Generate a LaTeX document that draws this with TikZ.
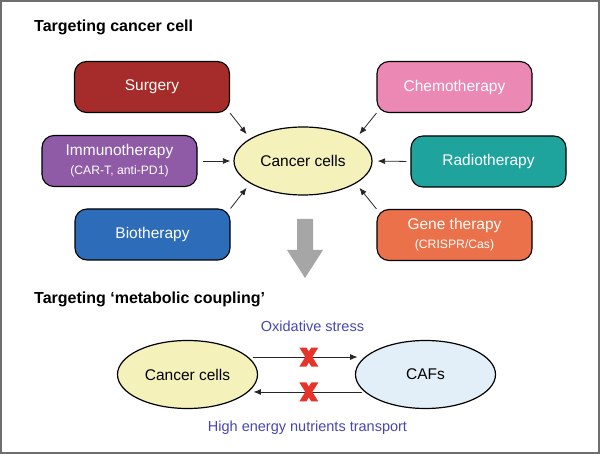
\documentclass[tikz,border=0pt]{standalone}
\usepackage{fontspec}
\setmainfont{Liberation Sans}
\usetikzlibrary{arrows.meta,shapes.geometric}
\definecolor{frame}{HTML}{6E6E6E}
\definecolor{csurg}{HTML}{A52C2A}
\definecolor{cchem}{HTML}{EB88B4}
\definecolor{cradio}{HTML}{1FA39D}
\definecolor{cgene}{HTML}{EB714A}
\definecolor{cimm}{HTML}{8F5AA6}
\definecolor{cbio}{HTML}{2C6CB9}
\definecolor{cyel}{HTML}{F4F1BB}
\definecolor{ccaf}{HTML}{E2EFF9}
\definecolor{cred}{HTML}{E8332A}
\definecolor{cblue}{HTML}{4646B4}
\definecolor{cgray}{HTML}{A6A6A6}
\tikzset{
  therapy/.style={draw=black, line width=1.1pt, rounded corners=12pt, minimum width=155pt, minimum height=51pt, inner sep=0pt, text=white, align=center, font=\fontsize{15.5}{18}\selectfont},
  cell/.style={ellipse, draw=black, line width=1.2pt, minimum width=138pt, minimum height=68pt, inner sep=0pt, font=\fontsize{15.5}{18}\selectfont},
  arr/.style={draw=black!85, line width=0.8pt, -{Latex[length=7.5pt,width=6pt]}},
  heading/.style={anchor=base west, inner sep=0pt, font=\bfseries\fontsize{16}{18}\selectfont},
  bluetext/.style={text=cblue, font=\fontsize{14.5}{17}\selectfont},
  xcross/.pic={\fill[cred] (-9.5,-9.5) -- (-2.5,-9.5) -- (9.5,9.5) -- (2.5,9.5) -- cycle;
               \fill[cred] (2.5,-9.5) -- (9.5,-9.5) -- (-2.5,9.5) -- (-9.5,9.5) -- cycle;}
}
\begin{document}
\begin{tikzpicture}[x=1pt,y=-1pt]
\useasboundingbox (0,0) rectangle (600,454);
\draw[frame, line width=2pt] (1,1) rectangle (599,453);

\node[heading] (t1) at (34,32) {Targeting cancer cell};

\node[therapy, fill=csurg] (surg) at (152,87) {Surgery};
\node[therapy, fill=cchem] (chem) at (454.5,87) {Chemotherapy};
\node[therapy, fill=cimm] (imm) at (119.5,161) {Immunotherapy\\[1pt]{\fontsize{12.2}{14}\selectfont (CAR-T, anti-PD1)}};
\node[therapy, fill=cradio] (radio) at (488.5,161.5) {Radiotherapy};
\node[therapy, fill=cbio] (bio) at (152.5,234.5) {Biotherapy};
\node[therapy, fill=cgene] (gene) at (454.5,235) {Gene therapy\\[1pt]{\fontsize{12.2}{14}\selectfont (CRISPR/Cas)}};

\node[cell, fill=cyel] (cc) at (303,161) {Cancer cells};

\draw[arr, shorten >=5.5pt] (surg.south east) -- (cc.157);
\draw[arr, shorten >=5.5pt] (chem.south west) -- (cc.23);
\draw[arr, shorten >=5.5pt] (bio.north east) -- (cc.203);
\draw[arr, shorten >=5.5pt] (gene.north west) -- (cc.337);
\draw[arr, shorten <=5pt, shorten >=3pt] (imm.east) -- (cc.west);
\draw[arr, shorten <=4pt, shorten >=5pt] (radio.west) -- (cc.east);

\fill[cgray] (297,219) -- (313,219) -- (313,250) -- (323,250) -- (305,278) -- (287,250) -- (297,250) -- cycle;

\node[heading] (t2) at (34,304) {Targeting ‘metabolic coupling’};

\node[cell, fill=cyel, minimum width=140pt] (cc2) at (187.5,374.5) {Cancer cells};
\node[cell, fill=ccaf, minimum width=140pt] (caf) at (425.5,374.5) {CAFs};

\node[bluetext] (ox) at (312.5,326) {Oxidative stress};
\node[bluetext] (he) at (307.5,428) {High energy nutrients transport};

\draw[arr, shorten <=5pt, shorten >=7pt] (cc2.16) -- (caf.164);
\draw[arr, shorten <=3pt, shorten >=5pt] (caf.196) -- (cc2.344);
\path (cc2.16) -- pic[pos=0.52]{xcross} (caf.164);
\path (caf.196) -- pic[pos=0.48]{xcross} (cc2.344);
\end{tikzpicture}
\end{document}
